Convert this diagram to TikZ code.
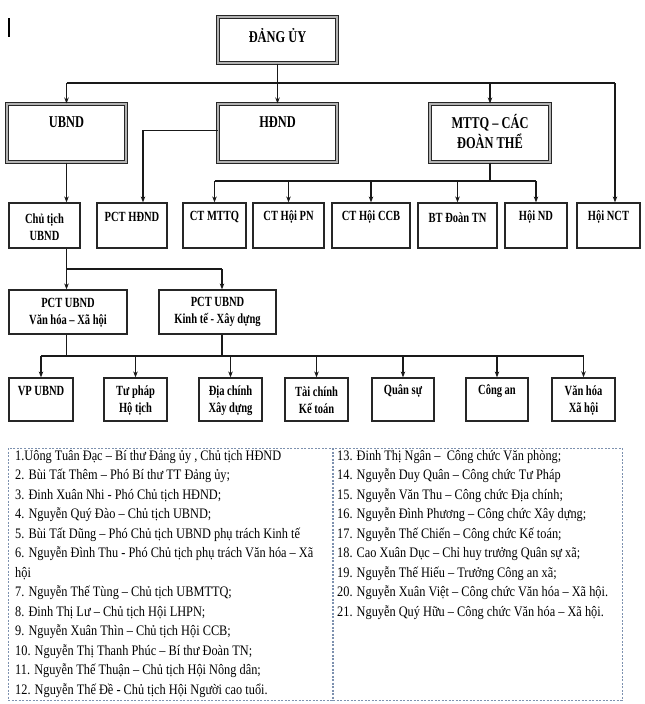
\documentclass[tikz,border=0pt]{standalone}
\usepackage{fontspec}
\setmainfont{Liberation Serif}
\newfontfamily\lstfont[FakeStretch=0.85]{Liberation Serif}
\newfontfamily\boxfont[FakeStretch=0.75]{Liberation Serif}
\usetikzlibrary{arrows.meta,calc,fit}
\tikzset{
  frame/.style={draw=black!85, line width=1pt, double=gray!60, double distance=1.6pt, inner sep=0pt},
  box/.style={draw=black!85, line width=1.2pt, inner sep=0pt},
  boxthick/.style={draw=black!85, line width=1.4pt, inner sep=0pt},
  lbl/.style={font=\boxfont\bfseries\fontsize{14}{17}\selectfont, align=center, inner sep=0pt},
  biglbl/.style={font=\boxfont\bfseries\fontsize{16.5}{20}\selectfont, align=center, inner sep=0pt},
  lst/.style={font=\lstfont\fontsize{14.5}{19.5}\selectfont, align=left, inner sep=0pt, anchor=north west},
  conn/.style={line width=1.1pt, draw=black!90},
  arr/.style={line width=1.1pt, draw=black!90, -{Stealth[length=6pt,width=4.5pt]}},
  lstbox/.style={draw={rgb,255:red,125;green,145;blue,175}, line width=0.8pt, dash pattern=on 2pt off 1.5pt},
}
\begin{document}
\begin{tikzpicture}[x=1pt,y=-1pt]
\useasboundingbox[fill=white] (0,0) rectangle (645,704);
\draw[line width=1.6pt] (9,18) -- (9,37);
% row 1
\node[frame, fit={(218,17) (337,63)}] (dang) {};
\node[frame, fit={(7,104) (126,162)}] (ubnd) {};
\node[frame, fit={(218,104) (337,162)}] (hdnd) {};
\node[frame, fit={(430,104) (550,162)}] (mttq) {};
\node[biglbl] (dang-t) at ($(dang.north)+(0,19)$) {ĐẢNG ỦY};
\node[biglbl] (ubnd-t) at ($(ubnd.north)+(0,19)$) {UBND};
\node[biglbl] (hdnd-t) at ($(hdnd.north)+(0,19)$) {HĐND};
\node[biglbl] (mttq-t) at ($(mttq.north)+(0,28)$) {MTTQ – CÁC\\ĐOÀN THỂ};
% row 3
\node[box, fit={(9,203) (80,248)}] (ct) {};
\node[box, fit={(97,203) (167,248)}] (pcthd) {};
\node[box, fit={(183,203) (246,248)}] (ctmt) {};
\node[box, fit={(253,203) (324,248)}] (ctpn) {};
\node[box, fit={(332,203) (410,248)}] (ctccb) {};
\node[box, fit={(418,203) (497,248)}] (btdoan) {};
\node[box, fit={(505,203) (567,248)}] (hoind) {};
\node[box, fit={(577,203) (640,248)}] (hoinct) {};
\node[lbl] (ct-t) at ($(ct.north)+(0,25)$) {Chủ tịch\\UBND};
\node[lbl] (pcthd-t) at ($(pcthd.north)+(0,15)$) {PCT HĐND};
\node[lbl] (ctmt-t) at ($(ctmt.north)+(0,15)$) {CT MTTQ};
\node[lbl] (ctpn-t) at ($(ctpn.north)+(0,15)$) {CT Hội PN};
\node[lbl] (ctccb-t) at ($(ctccb.north)+(0,15)$) {CT Hội CCB};
\node[lbl] (btdoan-t) at ($(btdoan.north)+(0,15)$) {BT Đoàn TN};
\node[lbl] (hoind-t) at ($(hoind.north)+(0,15)$) {Hội ND};
\node[lbl] (hoinct-t) at ($(hoinct.north)+(0,15)$) {Hội NCT};
% row 4
\node[box, fit={(9,290) (127,334)}] (vh) {};
\node[box, fit={(159,290) (276,334)}] (kt) {};
\node[lbl] (vh-t) at ($(vh.north)+(0,23)$) {PCT UBND\\Văn hóa – Xã hội};
\node[lbl] (kt-t) at ($(kt.north)+(0,23)$) {PCT UBND\\Kinh tế - Xây dựng};
% row 5
\node[box, fit={(9,378) (73,421)}] (vp) {};
\node[box, fit={(104,378) (167,421)}] (tp) {};
\node[box, fit={(199,378) (262,421)}] (dc) {};
\node[box, fit={(285,378) (348,421)}] (tc) {};
\node[box, fit={(372,378) (434,421)}] (qs) {};
\node[box, fit={(466,378) (528,421)}] (ca) {};
\node[boxthick, fit={(552,378) (615,421)}] (vhxh) {};
\node[lbl] (vp-t) at ($(vp.north)+(0,14)$) {VP UBND};
\node[lbl] (tp-t) at ($(tp.north)+(0,23)$) {Tư pháp\\Hộ tịch};
\node[lbl] (dc-t) at ($(dc.north)+(0,23)$) {Địa chính\\Xây dựng};
\node[lbl] (tc-t) at ($(tc.north)+(0,23)$) {Tài chính\\Kế toán};
\node[lbl] (qs-t) at ($(qs.north)+(0,14)$) {Quân sự};
\node[lbl] (ca-t) at ($(ca.north)+(0,14)$) {Công an};
\node[lbl] (vhxh-t) at ($(vhxh.north)+(0,23)$) {Văn hóa\\Xã hội};
% connectors
\coordinate (top) at (0,83);
\coordinate (nctx) at (615,83);
\draw[conn] (dang.south) -- (dang.south |- top);
\draw[conn] (ubnd.north |- top) -- (nctx);
\draw[arr] (ubnd.north |- top) -- (ubnd.north);
\draw[arr] (dang.south |- top) -- (hdnd.north);
\draw[arr] (mttq.north |- top) -- (mttq.north);
\draw[arr] (nctx) -- (nctx |- hoinct.north);
\draw[arr] (ubnd.south) -- (ubnd.south |- ct.north);
\draw[arr] ($(hdnd.north west)+(0,27)$) -| ([xshift=11pt]pcthd.north);
\coordinate (mb) at (0,181);
\draw[conn] (mttq.south) -- (mttq.south |- mb);
\draw[conn] (ctmt.north |- mb) -- (hoind.north |- mb);
\foreach \n in {ctmt,ctpn,ctccb,btdoan,hoind} \draw[arr] (\n.north |- mb) -- (\n.north);
\coordinate (c2) at (222,269);
\draw[conn] (ct.south -| ubnd.south) -- (ubnd.south |- c2) -- (c2);
\draw[arr] (ubnd.south |- c2) -- (ubnd.south |- vh.north);
\draw[arr] (c2) -- (c2 |- kt.north);
\coordinate (rb) at (0,356);
\draw[conn] (vh.south -| ubnd.south) -- (ubnd.south |- rb);
\draw[conn] (kt.south -| c2) -- (c2 |- rb);
\draw[conn] (vp.north |- rb) -- (vhxh.north |- rb);
\foreach \n in {vp,tp,dc,tc,qs,ca,vhxh} \draw[arr] (\n.north |- rb) -- (\n.north);
% list
\draw[lstbox] (8,448) rectangle (332,700);
\draw[lstbox] (333,448) rectangle (622,700);
\node[lst] (left) at (15,450) {1.Uông Tuân Đạc – Bí thư Đảng ủy , Chủ tịch HĐND\\
2. Bùi Tất Thêm – Phó Bí thư TT Đảng ủy;\\
3. Đinh Xuân Nhi - Phó Chủ tịch HĐND;\\
4. Nguyễn Quý Đào – Chủ tịch UBND;\\
5. Bùi Tất Dũng – Phó Chủ tịch UBND phụ trách Kinh tế\\
6. Nguyễn Đình Thu - Phó Chủ tịch phụ trách Văn hóa – Xã\\
hội\\
7. Nguyễn Thế Tùng – Chủ tịch UBMTTQ;\\
8. Đinh Thị Lư – Chủ tịch Hội LHPN;\\
9. Nguyễn Xuân Thìn – Chủ tịch Hội CCB;\\
10. Nguyễn Thị Thanh Phúc – Bí thư Đoàn TN;\\
11. Nguyễn Thế Thuận – Chủ tịch Hội Nông dân;\\
12. Nguyễn Thế Đề - Chủ tịch Hội Người cao tuổi.};
\node[lst] (right) at (337,450) {13. Đinh Thị Ngân –\ \ Công chức Văn phòng;\\
14. Nguyễn Duy Quân – Công chức Tư Pháp\\
15. Nguyễn Văn Thu – Công chức Địa chính;\\
16. Nguyễn Đình Phương – Công chức Xây dựng;\\
17. Nguyễn Thế Chiến – Công chức Kế toán;\\
18. Cao Xuân Dục – Chỉ huy trưởng Quân sự xã;\\
19. Nguyễn Thế Hiếu – Trưởng Công an xã;\\
20. Nguyễn Xuân Việt – Công chức Văn hóa – Xã hội.\\
21. Nguyễn Quý Hữu – Công chức Văn hóa – Xã hội.};
\end{tikzpicture}
\end{document}
